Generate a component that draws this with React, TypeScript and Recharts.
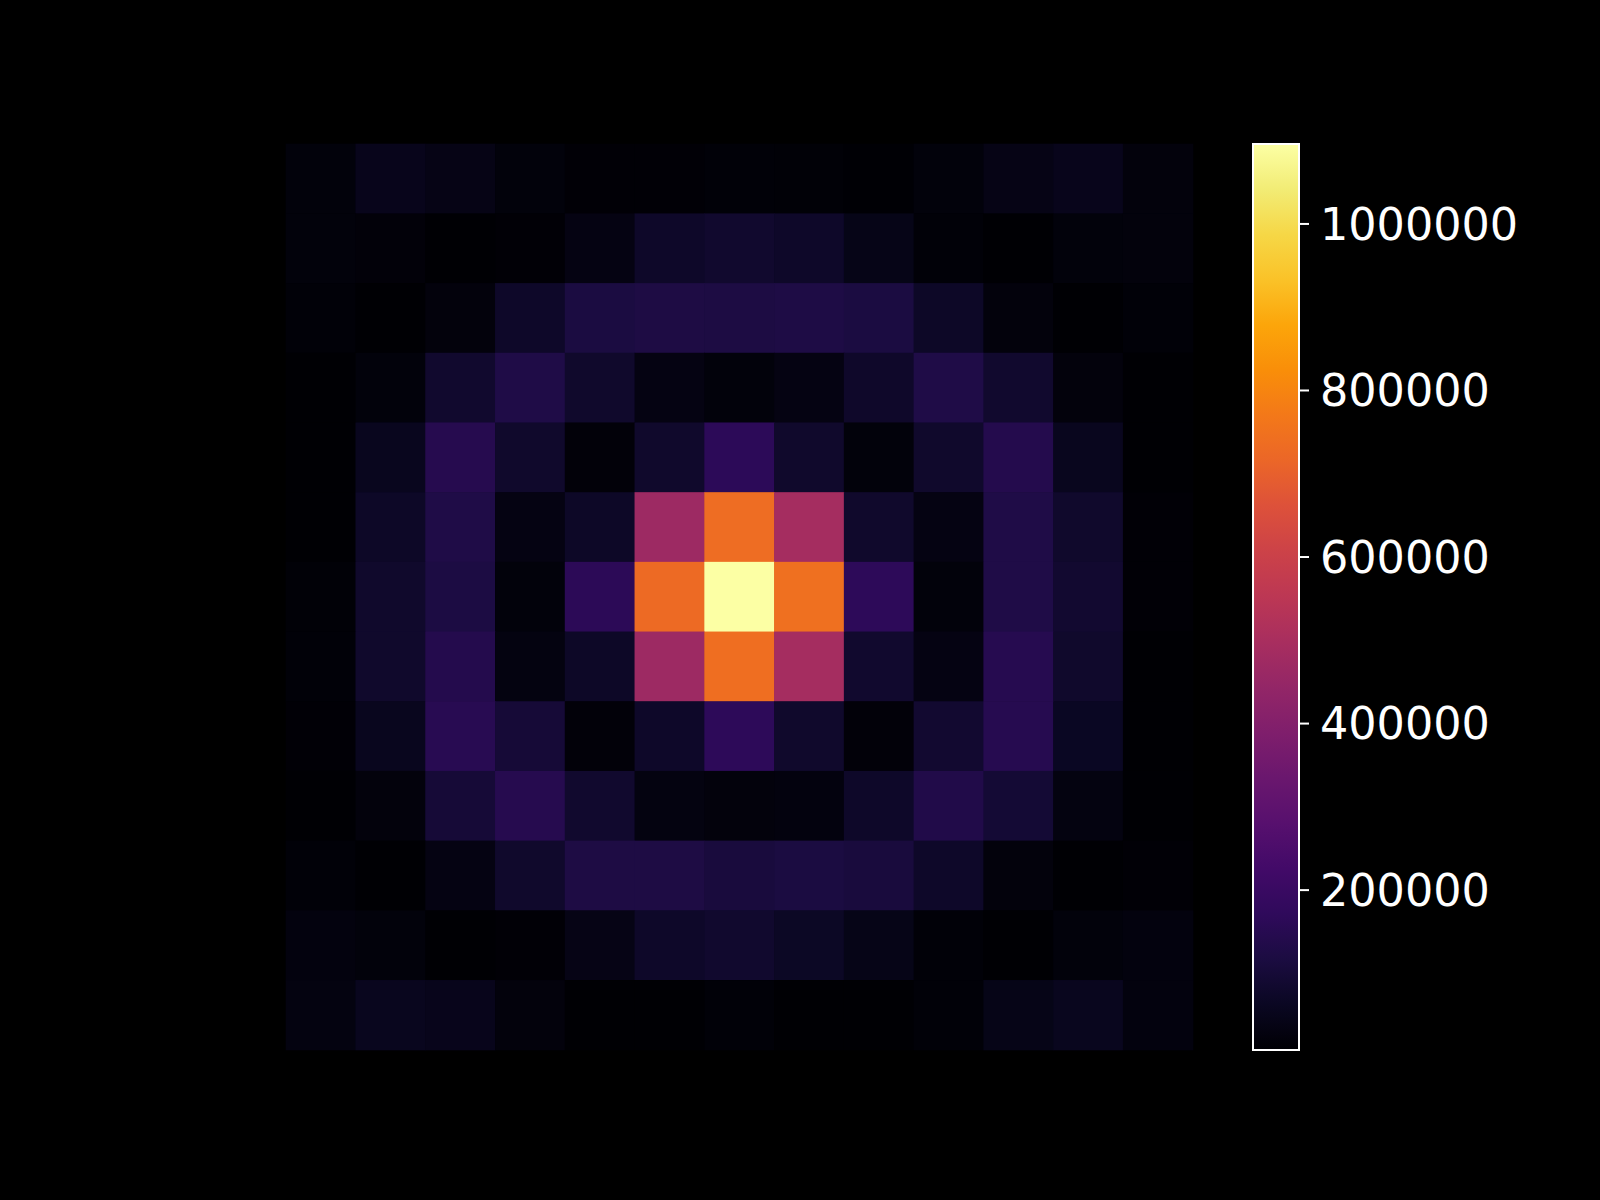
import React from "react";
import {
  ScatterChart,
  Scatter,
  XAxis,
  YAxis,
  ComposedChart,
  ReferenceArea,
  Line,
} from "recharts";

// ---- data (rows top to bottom, 13 columns each) ----
const row0 = [20000, 50000, 38000, 20000, 11000, 11000, 14500, 13000, 9500, 20000, 38000, 50000, 23000];
const row1 = [20000, 17500, 8000, 11000, 34000, 75500, 84000, 75500, 43000, 14500, 8000, 20000, 23000];
const row2 = [14500, 8000, 23000, 75500, 117000, 124000, 122000, 126000, 117000, 72000, 23000, 8000, 14500];
const row3 = [8000, 20000, 84000, 129000, 80000, 34000, 20000, 34000, 77000, 129000, 84000, 23000, 8000];
const row4 = [8000, 54500, 146000, 80000, 17500, 80000, 164000, 80000, 20000, 80000, 142000, 54500, 8000];
const row5 = [8000, 72000, 129000, 34000, 72000, 470000, 735000, 490000, 80000, 34000, 129000, 80000, 11000];
const row6 = [13000, 80000, 120000, 20000, 162000, 728000, 1096000, 744000, 166000, 20000, 129000, 87000, 11000];
const row7 = [14500, 80000, 142000, 30000, 72000, 468000, 739000, 490000, 84000, 34000, 148000, 80000, 8000];
const row8 = [11000, 54500, 152000, 100000, 17500, 75500, 166000, 80000, 17500, 87000, 148000, 63500, 8000];
const row9 = [8000, 23000, 100000, 146000, 84000, 30000, 23000, 26500, 75500, 133000, 95000, 30000, 8000];
const row10 = [14500, 8000, 34000, 80000, 124000, 124000, 110000, 117000, 110000, 75500, 23000, 8000, 11000];
const row11 = [26500, 20000, 8000, 11000, 38000, 75500, 84000, 68000, 43000, 14500, 8000, 20000, 26500];
const row12 = [30000, 54500, 50000, 23000, 8000, 8000, 14500, 8000, 8000, 14500, 43000, 54500, 26500];

const ROWS = [row0, row1, row2, row3, row4, row5, row6, row7, row8, row9, row10, row11, row12];
const CB_TICKS = [200000, 400000, 600000, 800000, 1000000];

// ---- inferno colormap ----
const INFERNO = [
  "#000004", "#0a0722", "#1b0c41", "#2f0a5b", "#420a68", "#57106e", "#6a176e",
  "#7f1e6c", "#932667", "#a82e5f", "#bc3754", "#cc4248", "#dd513a", "#eb6628",
  "#f37819", "#f98e09", "#fca50a", "#fac228", "#f6d746", "#f2ec75", "#fcffa4",
];

const allVals = ROWS.flat();
const VMIN = Math.min(...allVals);
const VMAX = Math.max(...allVals);

function hexToRgb(h: string) {
  return [parseInt(h.slice(1, 3), 16), parseInt(h.slice(3, 5), 16), parseInt(h.slice(5, 7), 16)];
}
function colorFor(v: number) {
  let t = (v - VMIN) / (VMAX - VMIN);
  t = Math.max(0, Math.min(1, t));
  const pos = t * (INFERNO.length - 1);
  const i = Math.min(Math.floor(pos), INFERNO.length - 2);
  const f = pos - i;
  const a = hexToRgb(INFERNO[i]);
  const b = hexToRgb(INFERNO[i + 1]);
  const c = a.map((ca, k) => Math.round(ca + (b[k] - ca) * f));
  return `rgb(${c[0]},${c[1]},${c[2]})`;
}

const cells = ROWS.flatMap((r, ri) => r.map((v, ci) => ({ x: ci, y: ri, v })));
const cbData = [
  { x: 0, y: VMIN },
  { x: 1, y: VMAX },
];

// ---- layout ----
const W = 1600;
const H = 1200;
const ML = 286;
const MR = 407;
const MT = 144;
const MB = 150;
const NC = 13;
const NR = 13;
const CELL_W = (W - ML - MR) / NC;
const CELL_H = (H - MT - MB) / NR;

const FONT = "'DejaVu Sans', sans-serif";

const CellShape = (props: any) => {
  const { cx, cy, payload } = props;
  if (cx == null || cy == null) return null;
  return (
    <rect
      x={cx - CELL_W / 2 - 0.3}
      y={cy - CELL_H / 2 - 0.3}
      width={CELL_W + 0.6}
      height={CELL_H + 0.6}
      fill={colorFor(payload.v)}
    />
  );
};

export default function App() {
  return (
    <div style={{ position: "absolute", left: 0, top: 0, width: W, height: H, background: "#000" }}>
      <div style={{ position: "absolute", left: 0, top: 0 }}>
        <ScatterChart width={W} height={H} margin={{ left: ML, right: MR, top: MT, bottom: MB }}>
          <XAxis type="number" dataKey="x" domain={[-0.5, NC - 0.5]} hide />
          <YAxis type="number" dataKey="y" domain={[-0.5, NR - 0.5]} reversed hide />
          <Scatter data={cells} shape={CellShape} isAnimationActive={false} />
        </ScatterChart>
      </div>
      <div style={{ position: "absolute", left: 0, top: 0 }}>
        <ComposedChart
          width={W}
          height={H}
          data={cbData}
          margin={{ left: 1253, right: 101, top: MT, bottom: MB }}
        >
          <defs>
            <linearGradient id="cbGrad" x1="0" y1="1" x2="0" y2="0">
              {INFERNO.map((c, i) => (
                <stop key={i} offset={`${(i / (INFERNO.length - 1)) * 100}%`} stopColor={c} />
              ))}
            </linearGradient>
          </defs>
          <XAxis type="number" dataKey="x" domain={[0, 1]} hide />
          <YAxis
            type="number"
            orientation="right"
            domain={[VMIN, VMAX]}
            allowDataOverflow
            ticks={CB_TICKS}
            width={200}
            axisLine={false}
            tickSize={10}
            tickMargin={11}
            tickLine={{ stroke: "#fff", strokeWidth: 2 }}
            tick={{ fill: "#fff", fontSize: 44.5, fontFamily: FONT }}
          />
          <ReferenceArea
            y1={VMIN}
            y2={VMAX}
            fill="url(#cbGrad)"
            fillOpacity={1}
            stroke="#fff"
            strokeWidth={2}
          />
          <Line dataKey="y" stroke="none" dot={false} isAnimationActive={false} />
        </ComposedChart>
      </div>
    </div>
  );
}
